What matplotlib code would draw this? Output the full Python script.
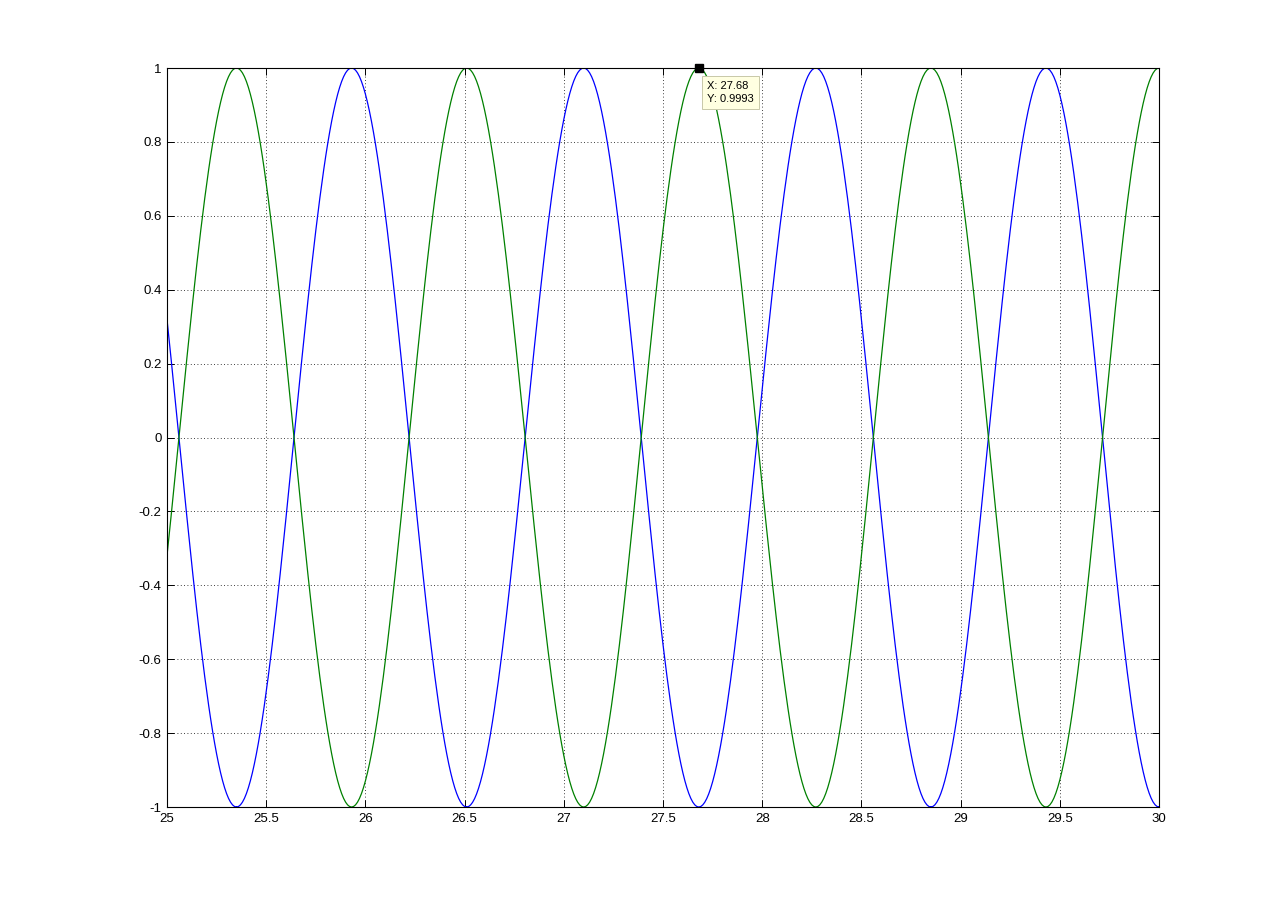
import numpy as np
import matplotlib
matplotlib.use("Agg")
import matplotlib.pyplot as plt

# extrema (x position, value); curves are cosine arcs between them
blue_ext_x = [24.77, 25.35, 25.93, 26.51, 27.10, 27.68, 28.27, 28.85, 29.43, 30.00]
blue_ext_y = [1, -1, 1, -1, 1, -1, 1, -1, 1, -1]
green_ext_x = [24.77, 25.35, 25.93, 26.51, 27.10, 27.68, 28.27, 28.85, 29.43, 30.00]
green_ext_y = [-1, 1, -1, 1, -1, 1, -1, 1, -1, 1]

tip_x = 27.68
tip_y = 0.9993

x_ticks = [25, 25.5, 26, 26.5, 27, 27.5, 28, 28.5, 29, 29.5, 30]
x_labels = ["25", "25.5", "26", "26.5", "27", "27.5", "28", "28.5", "29", "29.5", "30"]
y_ticks = [-1, -0.8, -0.6, -0.4, -0.2, 0, 0.2, 0.4, 0.6, 0.8, 1]
y_labels = ["-1", "-0.8", "-0.6", "-0.4", "-0.2", "0", "0.2", "0.4", "0.6", "0.8", "1"]


def arcs(ex, ey, step=0.01):
  xs, ys = [], []
  for i in range(len(ex) - 1):
    t = np.arange(ex[i], ex[i+1], step)
    f = (t - ex[i]) / (ex[i+1] - ex[i])
    mid = (ey[i] + ey[i+1]) / 2
    amp = (ey[i] - ey[i+1]) / 2
    xs.append(t)
    ys.append(mid + amp*np.cos(np.pi*f))
  xs.append([ex[-1]])
  ys.append([ey[-1]])
  return np.concatenate(xs), np.concatenate(ys)


plt.rcParams['font.family'] = ['Liberation Sans', 'DejaVu Sans']

fig = plt.figure(figsize=(12.81, 9.08), dpi=100)
ax = fig.add_axes([0.1304, 0.1112, 0.7744, 0.8139])

bx, by = arcs(blue_ext_x, blue_ext_y)
gx, gy = arcs(green_ext_x, green_ext_y)
ax.plot(bx, by, color=(0, 0, 1), lw=0.9)
ax.plot(gx, gy, color=(0, 0.5, 0), lw=0.9)

ax.set_xlim(25, 30)
ax.set_ylim(-1, 1)
ax.set_xticks(x_ticks)
ax.set_xticklabels(x_labels)
ax.set_yticks(y_ticks)
ax.set_yticklabels(y_labels)
ax.tick_params(direction='in', top=True, right=True, labelsize=9.5, length=5, width=0.7, pad=4)
ax.grid(True, color='black', linestyle=(0, (1, 3)), lw=0.6)
for s in ax.spines.values():
  s.set_linewidth(0.8)

# datatip
ax.plot([tip_x], [tip_y], 's', color='black', ms=6, clip_on=False, zorder=5)
ax.annotate("X: %.2f\nY: %.4f" % (tip_x, tip_y), xy=(tip_x, tip_y),
            xytext=(6, -9), textcoords='offset points', va='top', ha='left',
            fontsize=8, linespacing=1.35,
            bbox=dict(boxstyle='square,pad=0.45', fc='#ffffe1', ec='#c8c8a8', lw=0.7),
            zorder=6)

fig.savefig("out.png", dpi=100)
